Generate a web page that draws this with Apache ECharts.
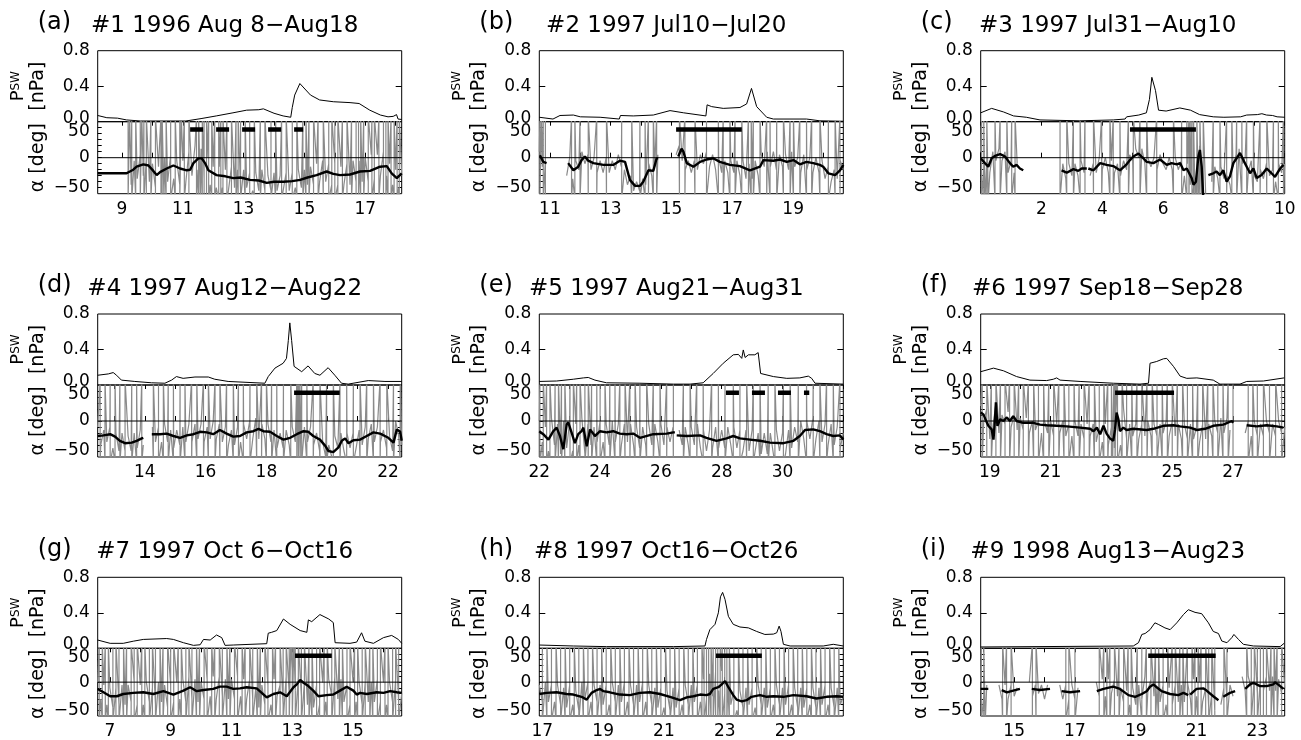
<!DOCTYPE html>
<html><head><meta charset="utf-8">
<script src="https://cdn.jsdelivr.net/npm/echarts@6.0.0/dist/echarts.min.js"></script>
<style>html,body{margin:0;padding:0;background:#fff}#c{width:1301px;height:740px}</style>
</head><body><div id="c"></div>
<script>
// ---------- panel texts ----------
const letters = ["(a)","(b)","(c)","(d)","(e)","(f)","(g)","(h)","(i)"];
const titles = ["#1 1996 Aug 8\u2212Aug18","#2 1997 Jul10\u2212Jul20","#3 1997 Jul31\u2212Aug10",
  "#4 1997 Aug12\u2212Aug22","#5 1997 Aug21\u2212Aug31","#6 1997 Sep18\u2212Sep28",
  "#7 1997 Oct 6\u2212Oct16","#8 1997 Oct16\u2212Oct26","#9 1998 Aug13\u2212Aug23"];
// ---------- x ranges (day of month) and tick labels ----------
const xRanges = [[8.2,18.2],[10.65,20.65],[0,10],[12.45,22.45],[22,32],[18.7,28.7],[6.6,16.6],[16.9,26.9],[13.9,23.9]];
const xLabels = [[9,11,13,15,17],[11,13,15,17,19],[2,4,6,8,10],[14,16,18,20,22],[22,24,26,28,30],
  [19,21,23,25,27],[7,9,11,13,15],[17,19,21,23,25],[15,17,19,21,23]];
const pswLabels = [0,0.4,0.8];
const alphaLabels = [-50,0,50];
const alphaTicks = [-50,-40,-30,-20,-10,0,10,20,30,40,50];
// ---------- solar wind pressure Psw [nPa] : [day, value] ----------
const psw_a = [[8.2,0.07],[8.5,0.045],[8.85,0.04],[9.15,0.02],[9.6,0.008],[11.1,0.008],[11.6,0.035],[12.1,0.065],[12.65,0.1],[13.1,0.13],[13.5,0.135],[13.65,0.145],[14.0,0.095],[14.3,0.065],[14.55,0.05],[14.6,0.16],[14.68,0.3],[14.85,0.43],[15.2,0.3],[15.5,0.245],[15.95,0.225],[16.5,0.215],[16.8,0.205],[17.15,0.13],[17.5,0.075],[17.75,0.055],[17.92,0.06],[18.03,0.08],[18.08,0.03],[18.2,0.025]];
const psw_b = [[10.65,0.05],[11.1,0.03],[11.33,0.07],[11.77,0.075],[12.0,0.055],[12.65,0.05],[13.28,0.03],[13.32,0.07],[13.74,0.065],[14.4,0.075],[14.95,0.125],[15.4,0.1],[16.13,0.065],[16.17,0.19],[16.32,0.17],[16.7,0.15],[17.25,0.16],[17.47,0.2],[17.63,0.375],[17.8,0.17],[18.13,0.05],[18.35,0.03],[19.44,0.03],[19.88,0.01],[20.65,0.005]];
const psw_c = [[0,0.1],[0.36,0.15],[0.75,0.11],[1.08,0.065],[1.5,0.05],[1.95,0.02],[3.26,0.01],[4.36,0.02],[4.75,0.03],[4.8,0.055],[5.2,0.075],[5.45,0.1],[5.55,0.25],[5.63,0.5],[5.68,0.52],[5.75,0.35],[5.85,0.13],[6.1,0.12],[6.55,0.155],[6.9,0.13],[7.2,0.08],[7.65,0.055],[8.0,0.05],[8.55,0.055],[8.75,0.075],[9.1,0.08],[9.25,0.09],[9.4,0.075],[9.6,0.07],[9.75,0.055],[10,0.05]];
const psw_d = [[12.45,0.11],[12.8,0.125],[12.96,0.14],[13.07,0.11],[13.23,0.055],[13.67,0.04],[14.22,0.025],[14.66,0.02],[14.88,0.055],[15.04,0.095],[15.26,0.075],[15.65,0.09],[16.09,0.09],[16.3,0.065],[16.74,0.04],[17.95,0.02],[18.06,0.095],[18.28,0.19],[18.55,0.245],[18.66,0.3],[18.72,0.5],[18.77,0.7],[18.83,0.5],[18.91,0.21],[19.16,0.15],[19.37,0.215],[19.59,0.13],[19.76,0.11],[20.03,0.195],[20.25,0.11],[20.47,0.02],[20.69,0.01],[21.35,0.05],[21.9,0.04],[22.45,0.04]];
const psw_e = [[22,0.04],[22.57,0.045],[23.12,0.065],[23.45,0.08],[23.61,0.085],[23.83,0.055],[24.21,0.025],[25.31,0.02],[26.41,0.01],[26.96,0.01],[27.39,0.025],[27.72,0.13],[28.05,0.245],[28.38,0.34],[28.55,0.345],[28.66,0.3],[28.71,0.395],[28.77,0.31],[28.88,0.34],[29.09,0.34],[29.2,0.365],[29.28,0.13],[29.7,0.095],[30.14,0.075],[30.57,0.08],[30.85,0.1],[30.96,0.075],[31.07,0.02],[32,0.01]];
const psw_f = [[18.7,0.15],[19.12,0.19],[19.45,0.16],[19.88,0.095],[20.32,0.055],[20.87,0.05],[21.09,0.065],[21.2,0.08],[21.31,0.055],[21.97,0.04],[23.06,0.02],[23.94,0.01],[24.22,0.02],[24.27,0.245],[24.49,0.265],[24.71,0.295],[24.82,0.3],[25.04,0.21],[25.26,0.1],[25.48,0.075],[25.81,0.08],[26.35,0.055],[26.57,0.01],[27.23,0.01],[27.45,0.04],[28.0,0.045],[28.68,0.08]];
const psw_g = [[6.6,0.093],[7.01,0.056],[7.44,0.056],[7.77,0.08],[8.1,0.1],[8.87,0.11],[9.09,0.1],[9.42,0.063],[9.75,0.033],[9.97,0.04],[10.08,0.1],[10.3,0.093],[10.51,0.15],[10.68,0.12],[10.79,0.033],[11.06,0.037],[12.16,0.052],[12.21,0.17],[12.32,0.18],[12.49,0.2],[12.71,0.33],[12.93,0.27],[13.26,0.2],[13.48,0.18],[13.53,0.32],[13.64,0.3],[13.91,0.38],[14.2,0.33],[14.35,0.29],[14.41,0.063],[14.9,0.056],[15.12,0.07],[15.28,0.175],[15.39,0.08],[15.67,0.056],[16.0,0.12],[16.27,0.145],[16.49,0.1],[16.6,0.056]];
const psw_h = [[16.9,0.037],[18.02,0.026],[19.11,0.019],[21.31,0.019],[22.35,0.026],[22.4,0.1],[22.51,0.21],[22.68,0.27],[22.79,0.4],[22.86,0.58],[22.93,0.63],[23.01,0.55],[23.12,0.36],[23.28,0.27],[23.5,0.24],[23.78,0.23],[24.05,0.19],[24.32,0.156],[24.6,0.16],[24.71,0.175],[24.79,0.25],[24.85,0.19],[24.93,0.045],[25.15,0.026],[26.24,0.026],[26.57,0.045],[26.9,0.026]];
const psw_i = [[13.9,0.015],[18.92,0.026],[19.09,0.063],[19.2,0.156],[19.31,0.167],[19.36,0.145],[19.47,0.21],[19.63,0.287],[19.74,0.27],[19.96,0.23],[20.13,0.21],[20.35,0.287],[20.57,0.38],[20.73,0.435],[20.95,0.405],[21.17,0.39],[21.39,0.287],[21.55,0.19],[21.72,0.167],[21.83,0.082],[22.0,0.063],[22.16,0.12],[22.23,0.156],[22.38,0.1],[22.54,0.045],[22.87,0.026],[23.75,0.019],[23.88,0.056]];
// ---------- smoothed alpha [deg] (black) : [day, value], null = gap ----------
const alpha_a = [[8.2,-26],[9.15,-26],[9.37,-20],[9.48,-15],[9.7,-11],[9.87,-13],[10.03,-22],[10.14,-29],[10.25,-24],[10.47,-18],[10.69,-13],[10.91,-18],[11.13,-21],[11.24,-20],[11.35,-9],[11.51,-1],[11.62,-1],[11.73,-9],[11.84,-21],[12.11,-29],[12.4,-31],[12.66,-34],[12.9,-33],[13.21,-37],[13.5,-38],[13.76,-42],[14.0,-40],[14.31,-40],[14.6,-39],[14.86,-37],[15.1,-33],[15.4,-29],[15.73,-23],[15.95,-27],[16.17,-29],[16.5,-28],[16.83,-23],[17.16,-22],[17.49,-15],[17.71,-14],[17.87,-26],[18.04,-34],[18.2,-26]];
const alpha_b = [[10.67,4],[10.78,-7],[10.89,-9],[11.2,null],[11.6,-9],[11.77,-21],[11.93,-15],[12.04,-4],[12.15,2],[12.26,-5],[12.43,-9],[12.76,-12],[13.08,-12],[13.3,-5],[13.47,-7],[13.63,-37],[13.8,-47],[13.96,-47],[14.07,-40],[14.24,-21],[14.4,-22],[14.51,-1],[14.56,-1],[14.9,null],[15.22,2],[15.33,15],[15.39,10],[15.5,-9],[15.72,-15],[15.94,-7],[16.15,-3],[16.37,-1],[16.59,-7],[16.92,-12],[17.25,-14],[17.58,-21],[17.91,-15],[18.02,-4],[18.35,-5],[18.57,-3],[18.79,-7],[19.01,-4],[19.22,-11],[19.44,-7],[19.66,-9],[19.88,-12],[19.99,-15],[20.16,-26],[20.38,-29],[20.54,-21],[20.65,-12]];
const alpha_c = [[0,-1],[0.14,-9],[0.25,-15],[0.36,-1],[0.47,3],[0.64,6],[0.8,2],[0.96,-9],[1.07,-15],[1.18,-12],[1.29,-18],[1.4,-21],[2.0,null],[2.66,-21],[2.83,-25],[3.05,-19],[3.21,-22],[3.32,-18],[3.49,-18],[3.52,null],[3.54,-18],[3.71,-21],[3.93,-9],[4.14,-12],[4.36,-14],[4.58,-21],[4.8,-11],[4.91,-4],[5.02,2],[5.19,7],[5.35,-1],[5.46,-7],[5.68,-9],[5.9,-3],[6.12,-12],[6.28,-9],[6.45,-11],[6.56,-9],[6.67,-21],[6.78,-18],[6.94,-34],[7.0,-45],[7.08,-40],[7.16,2],[7.21,13],[7.27,-15],[7.32,-65],[7.4,null],[7.49,-29],[7.65,-26],[7.76,-23],[7.87,-29],[7.98,-21],[8.09,-40],[8.2,-31],[8.31,-9],[8.42,-1],[8.53,8],[8.64,-4],[8.75,-15],[8.86,-26],[8.97,-18],[9.08,-34],[9.24,-29],[9.41,-18],[9.57,-26],[9.68,-32],[9.85,-18],[9.96,-12]];
const alpha_d = [[12.45,-25],[12.64,-24],[12.86,-22],[13.02,-26],[13.18,-33],[13.35,-37],[13.57,-36],[13.73,-33],[13.9,-29],[13.95,-28],[14.1,null],[14.23,-22],[14.5,-22],[14.72,-21],[14.94,-25],[15.16,-28],[15.38,-24],[15.6,-22],[15.82,-18],[16.04,-19],[16.25,-22],[16.47,-15],[16.69,-21],[16.91,-26],[17.13,-25],[17.35,-19],[17.57,-17],[17.74,-13],[17.9,-17],[18.12,-18],[18.34,-25],[18.56,-31],[18.78,-28],[19.0,-22],[19.22,-17],[19.38,-18],[19.54,-25],[19.76,-31],[19.93,-41],[20.04,-50],[20.2,-52],[20.37,-44],[20.48,-33],[20.59,-29],[20.7,-37],[20.86,-32],[21.08,-31],[21.3,-25],[21.52,-19],[21.74,-21],[22.01,-28],[22.18,-36],[22.29,-14],[22.4,-18],[22.45,-33]];
const alpha_e = [[22,-17],[22.13,-22],[22.3,-31],[22.46,-17],[22.57,-11],[22.68,-25],[22.79,-47],[22.9,-6],[22.95,-2],[23.06,-19],[23.17,-37],[23.28,-22],[23.39,-17],[23.45,-11],[23.56,-42],[23.67,-14],[23.83,-25],[24.0,-17],[24.21,-19],[24.43,-17],[24.65,-21],[24.87,-22],[25.09,-21],[25.31,-28],[25.75,-22],[26.19,-21],[26.41,-19],[26.46,-19],[26.49,null],[26.52,-24],[26.85,-25],[27.29,-24],[27.5,-28],[27.83,-33],[28.16,-29],[28.38,-25],[28.6,-29],[28.93,-31],[29.26,-33],[29.59,-36],[30.03,-37],[30.36,-33],[30.57,-25],[30.74,-15],[31.01,-14],[31.23,-17],[31.45,-22],[31.67,-25],[31.89,-24],[32.0,-31]];
const alpha_f = [[18.7,14],[18.79,11],[18.88,0],[18.95,-8],[19.06,-14],[19.12,-31],[19.17,3],[19.2,31],[19.25,-8],[19.34,3],[19.45,0],[19.56,6],[19.66,0],[19.77,8],[19.88,0],[20.1,-3],[20.43,-3],[20.65,-6],[20.87,-7],[21.2,-8],[21.53,-9],[21.97,-11],[22.3,-13],[22.41,-17],[22.52,-11],[22.63,-22],[22.74,-8],[22.84,-21],[22.95,-29],[23.06,-33],[23.12,-14],[23.17,14],[23.23,3],[23.28,-17],[23.39,-11],[23.5,-15],[23.72,-13],[24.16,-15],[24.38,-13],[24.71,-8],[25.04,-7],[25.26,-9],[25.59,-11],[25.81,-15],[26.08,-13],[26.35,-8],[26.68,-6],[26.96,0],[27.01,-3],[27.2,null],[27.45,-7],[27.78,-9],[28.11,-7],[28.44,-9],[28.66,-11]];
const alpha_g = [[6.6,-12],[6.79,-18],[7.01,-25],[7.23,-25],[7.44,-21],[7.77,-19],[8.1,-18],[8.43,-21],[8.76,-16],[9.09,-22],[9.42,-15],[9.64,-9],[9.86,-16],[10.08,-14],[10.4,-12],[10.62,-8],[10.84,-8],[11.06,-12],[11.28,-11],[11.5,-9],[11.83,-11],[12.16,-27],[12.38,-21],[12.6,-18],[12.82,-25],[13.04,-9],[13.15,-4],[13.26,4],[13.37,-1],[13.53,-7],[13.69,-15],[13.86,-25],[14.13,-23],[14.35,-22],[14.57,-15],[14.79,-8],[15.01,-15],[15.12,-22],[15.23,-19],[15.45,-21],[15.78,-18],[16.0,-19],[16.22,-16],[16.44,-18],[16.6,-19]];
const alpha_h = [[16.9,-21],[17.14,-19],[17.47,-18],[17.8,-21],[18.02,-22],[18.29,-26],[18.46,-31],[18.62,-19],[18.79,-14],[18.9,-12],[19.01,-16],[19.22,-18],[19.55,-22],[19.88,-23],[20.21,-19],[20.54,-18],[20.87,-21],[21.2,-26],[21.53,-32],[21.75,-27],[21.97,-25],[22.19,-22],[22.4,-23],[22.51,-21],[22.62,-12],[22.79,-9],[22.9,-4],[23.01,2],[23.12,-9],[23.28,-23],[23.39,-31],[23.56,-34],[23.72,-32],[23.88,-26],[24.16,-23],[24.38,-26],[24.6,-25],[24.93,-26],[25.26,-23],[25.69,-25],[26.02,-29],[26.35,-26],[26.68,-25],[26.9,-26]];
const alpha_i = [[13.9,-12],[14.15,-12],[14.35,null],[14.59,-14],[14.76,-18],[14.97,-15],[15.19,-12],[15.4,null],[15.58,-12],[15.85,-14],[16.18,-12],[16.4,null],[16.56,-16],[16.84,-18],[17.17,-16],[17.45,null],[17.72,-16],[17.94,-12],[18.26,-8],[18.48,-12],[18.76,-23],[18.98,-26],[19.2,-21],[19.36,-16],[19.47,-8],[19.58,-4],[19.69,-9],[19.85,-16],[20.13,-21],[20.4,-23],[20.57,-19],[20.73,-23],[20.76,null],[20.79,-22],[21.0,-12],[21.22,-11],[21.33,-15],[21.55,-25],[21.72,-32],[21.8,null],[21.88,-26],[22.1,-19],[22.27,-16],[22.45,null],[22.6,-12],[22.76,-4],[22.87,-1],[23.09,-7],[23.31,-7],[23.53,-4],[23.58,0],[23.75,-7],[23.86,-12]];
// ---------- raw alpha [deg] (gray) noise band, sampled every 0.1 day from the panel start, null = no data ----------
const GSTEP = 0.1;
const band_a = [null,null,null,null,null,null,null,null,null,null,
 -10,-45,-5,-35,5,-30,0,-40,-10,-50, -15,-45,0,-40,5,-35,-5,-45,-5,-40,
 10,-30,20,-20,15,-35,0,-45,-15,-50, -15,-50,-20,-55,-15,-50,-20,-55,-20,-50,
 -25,-55,-25,-55,-20,-55,-30,-55,-25,-55, -30,-55,-25,-55,-25,-50,-20,-50,-20,-45,
 -15,-45,-10,-40,-5,-40,-10,-45,-10,-45, -15,-45,-10,-45,-5,-40,-5,-40,0,-40,
 5,-35,5,-30,10,-30,-10,-45,-20,-50, -30];
const band_b = [10,-15,-5,null,null,null,null,null,null,-30, 0,-35,-5,-20,10,-10,5,-20,0,-25,
 -5,-25,0,-25,-5,-20,5,-15,-20,-45, -30,-55,-40,-55,-35,-45,-10,-30,-15,5,
 null,null,null,null,null,5,20,-5,-20,-5, -25,-5,-20,5,-10,10,-15,5,-20,0,
 -25,-5,-25,-5,-25,-5,-30,-5,-35,-10, -35,-5,-30,5,-15,10,-15,10,-20,5,
 -15,5,-20,10,-15,0,-25,5,-20,0, -25,0,-25,-5,-35,-15,-40,-20,-35,-5, -20];
const band_c = [10,-20,-5,-25,10,-5,15,-5,10,-25, -5,-25,-10,null,null,null,null,null,null,null,
 null,null,null,null,null,null,null,-10,-35,-10, -30,-10,-30,-5,-25,null,-30,-10,-25,0,
 -20,0,-25,-5,-25,-10,-30,-5,-20,5, -5,15,0,15,-10,0,-15,0,-20,5,
 -10,-20,0,-20,0,-20,-5,-30,-10,-45, -50,-30,20,-20,-60,null,-40,-15,-35,-15,
 -35,-30,-45,-15,5,15,-10,0,-25,-5, -30,-40,-20,-35,-10,-30,-20,-40,-10,-25, -10];
const band_d = [-10,-40,-15,-35,-10,-45,-20,-50,-20,-50, -25,-50,-20,-45,-15,-40,null,null,-10,-35,
 -10,-35,-5,-35,-15,-45,-15,-40,-10,-35, -5,-35,-5,-30,-5,-35,-10,-30,0,-30,
 -5,-35,-10,-40,-15,-40,-10,-35,-5,-30, 0,-30,5,-30,-5,-30,-5,-35,-15,-45,
 -20,-45,-15,-40,-10,-35,-5,-30,-10,-35, -10,-40,-20,-50,-35,-60,-40,-60,-25,-45,
 -20,-50,-20,-45,-20,-45,-15,-40,-10,-30, -5,-35,-10,-35,-15,-45,-25,-50,0,-25, -40];
const band_e = [0,-35,-10,-50,5,-40,-5,-55,0,-45, 0,-50,-5,-40,5,-55,-5,-40,-10,-35,
 0,-35,-5,-40,0,-35,-5,-40,-5,-35, -5,-40,-10,-45,-10,-40,-5,-40,-5,-35,
 -5,-40,-10,-35,-10,null,-15,-40,-10,-40, -10,-40,-5,-45,-15,-50,-15,-45,-10,-45,
 -15,-45,-10,-40,-10,-45,-15,-50,-15,-50, -15,-50,-20,-55,-20,-55,-20,-55,-15,-50,
 -20,-55,-15,-45,-10,-35,0,-30,0,-30, 5,-30,0,-35,-5,-40,-5,-40,-10,-45, -20];
const band_f = [25,0,20,-30,-10,30,-20,10,-5,15, -10,10,-15,5,-15,5,-20,0,-15,0,
 -20,0,-20,0,-25,-5,-20,0,-25,-5, -25,0,-25,-5,-30,-5,-25,-5,-35,-10,
 -35,-5,-40,-10,-45,10,-40,20,-30,-5, -25,-5,-30,-5,-25,0,-25,-5,-25,-5,
 -20,0,-25,0,-25,-5,-30,-5,-30,-5, -30,-10,-35,-5,-30,-5,-25,0,-20,5,
 -20,5,-15,null,null,null,null,-20,0,-25, 0,-25,-5,-25,0,-20,-5,-25,0,-20, -10];
const band_g = [0,-30,-5,-40,-10,-45,-10,-40,-5,-40, -5,-35,0,-40,-5,-40,0,-35,-10,-40,
 0,-35,-5,-45,-5,-35,0,-30,5,-35, 10,-30,5,-35,0,-30,5,-25,10,-30,
 10,-25,5,-30,5,-30,10,-25,5,-30, 5,-30,-10,-45,-5,-40,-5,-40,5,-25,
 -5,-40,10,-20,20,-15,10,-25,0,-40, -10,-45,-5,-40,0,-35,5,-25,10,-30,
 5,-35,-5,-40,0,-35,0,-40,0,-35, 0,-35,5,-35,0,-40,0,-35,5,-35, -20];
const band_h = [-5,-35,0,-35,-5,-35,-5,-40,-10,-45, -5,-40,-15,-50,0,-30,0,-35,-5,-35,
 -5,-40,-5,-40,0,-35,-5,-35,0,-35, -5,-40,-5,-35,0,-35,-5,-40,-10,-45,
 -10,-45,-15,-50,-10,-45,-10,-40,-5,-40, -5,-35,-5,-35,5,-30,15,-25,20,-15,
 20,-20,0,-40,-15,-50,-15,-45,-10,-40, -10,-45,-5,-40,-10,-45,-10,-40,-5,-40,
 -10,-40,-5,-40,-10,-45,-10,-45,-10,-40, -10,-45,-10,-40,-5,-40,-10,-45,-10,-40, -25];
const band_i = [0,-25,-5,null,null,null,-5,-30,-5,-30, -5,-25,-10,null,null,null,0,-25,-5,-20,
 -5,-30,-5,null,null,null,-5,-30,-5,-30, -5,-30,-10,null,null,null,null,null,0,-25,
 5,-25,5,-20,5,-25,-10,-35,-15,-40, -10,-40,-5,-30,10,-15,5,-25,-10,-35,
 -5,-40,-10,-40,-5,-35,-5,-35,0,-30, 5,-25,0,-35,-10,-45,-20,-50,null,-40,
 -10,-35,-5,-25,null,null,10,-15,10,-10, 10,-20,5,-15,10,-15,10,-15,5,-20, -10];
// ---------- raw alpha wrap-around spikes (angle jumps through +-90 deg): day positions ----------
const spikes_a = [9.2,9.25,9.32,9.45,9.6,9.65,9.72,9.8,9.95,10.1,10.28,10.32,10.38,10.45,10.6,10.75,10.9,10.95,11.05,11.2,11.45,11.52,11.58,11.64,11.7,11.78,11.85,11.95,12.05,12.18,12.25,12.32,12.45,12.6,12.75,12.82,12.9,13.05,13.2,13.35,13.55,13.7,13.9,14.05,14.25,14.4,14.6,14.75,14.95,15.05,15.15,15.3,15.45,15.62,15.8,15.9,16.0,16.1,16.25,16.4,16.55,16.7,16.78,16.85,16.95,17.1,17.22,17.3,17.45,17.6,17.68,17.75,17.85,17.95,18.05,18.12];
const spikes_b = [10.67,10.72,10.78,10.85,11.71,11.82,11.99,12.26,12.54,12.86,13.36,13.69,13.96,14.13,14.24,14.4,14.51,15.26,15.44,15.77,16.15,16.54,16.7,16.92,17.09,17.31,17.53,17.62,17.69,17.91,18.13,18.24,18.46,18.68,18.9,19.01,19.22,19.44,19.61,19.88,20.16,20.38,20.54];
const spikes_c = [0.03,0.1,0.14,0.2,0.25,0.47,0.64,0.86,1.02,1.13,2.61,2.83,3.05,3.27,3.43,3.71,3.98,4.25,4.36,4.58,4.86,5.02,5.24,5.46,5.79,6.34,6.61,6.78,6.85,6.89,6.95,7.0,7.05,7.11,7.16,7.21,7.27,7.32,7.65,7.87,8.09,8.26,8.42,8.59,8.75,8.97,9.19,9.41,9.63,9.79,9.96];
const spikes_d = [12.53,12.69,12.86,13.02,13.18,13.35,13.57,13.73,13.9,14.28,14.45,14.61,14.77,14.94,15.16,15.32,15.54,15.71,15.93,16.09,16.31,16.47,16.69,16.91,17.08,17.24,17.46,17.68,17.84,18.0,18.17,18.34,18.56,18.8,19.0,19.03,19.05,19.08,19.11,19.14,19.16,19.33,19.54,19.76,19.98,20.2,20.42,20.64,20.86,21.08,21.3,21.52,21.74,21.96,22.18,22.4];
const spikes_e = [22.02,22.13,22.24,22.35,22.52,22.63,22.73,22.84,23.01,23.12,23.23,23.34,23.5,23.61,23.72,23.89,24.0,24.16,24.32,24.49,24.65,24.82,24.98,25.15,25.31,25.53,25.75,25.97,26.19,26.41,26.74,26.96,27.18,27.39,27.67,27.89,28.11,28.38,28.6,28.82,29.04,29.26,29.53,29.75,30.03,30.25,30.52,30.79,31.01,31.23,31.45,31.67,31.89];
const spikes_f = [18.75,18.9,19.05,19.2,19.35,19.5,19.65,19.8,19.95,20.1,20.27,20.44,20.6,20.77,20.94,21.1,21.27,21.44,21.6,21.77,21.94,22.1,22.27,22.44,22.6,22.75,22.88,23.0,23.04,23.08,23.12,23.16,23.2,23.35,23.5,23.67,23.84,24.0,24.17,24.34,24.5,24.67,24.84,25.0,25.17,25.34,25.5,25.67,25.84,26.0,26.17,26.34,26.5,26.67,26.84,27.0,27.5,27.65,27.8,28.0,28.2,28.4,28.6];
const spikes_g = [6.65,6.75,6.85,6.95,7.1,7.2,7.3,7.45,7.55,7.7,7.8,7.9,8.05,8.15,8.3,8.4,8.5,8.65,8.75,8.9,9.0,9.1,9.25,9.35,9.5,9.6,9.7,9.85,9.95,10.1,10.2,10.35,10.45,10.6,10.7,10.85,10.95,11.1,11.2,11.35,11.45,11.6,11.7,11.85,11.95,12.1,12.2,12.35,12.45,12.6,12.7,12.8,12.9,12.95,13.0,13.05,13.1,13.2,13.3,13.4,13.55,13.65,13.8,13.9,14.05,14.15,14.3,14.4,14.55,14.65,14.8,14.9,15.05,15.15,15.3,15.4,15.55,15.65,15.8,15.9,16.05,16.15,16.3,16.4,16.5];
const spikes_h = [17.0,17.15,17.3,17.45,17.6,17.75,17.9,18.05,18.2,18.35,18.5,18.65,18.8,18.95,19.1,19.25,19.4,19.55,19.7,19.85,20.0,20.15,20.3,20.45,20.6,20.75,20.9,21.05,21.2,21.35,21.5,21.65,21.8,21.95,22.1,22.25,22.32,22.4,22.47,22.55,22.62,22.7,22.77,22.85,22.92,23.0,23.07,23.15,23.3,23.45,23.6,23.75,23.9,24.05,24.2,24.35,24.5,24.65,24.8,24.95,25.1,25.25,25.4,25.55,25.7,25.85,26.0,26.15,26.3,26.45,26.6,26.75];
const spikes_i = [13.92,14.0,14.05,14.62,14.75,14.9,15.6,15.72,16.7,16.8,17.0,17.8,17.95,18.05,18.15,18.3,18.45,18.6,18.75,18.85,19.05,19.2,19.35,19.5,19.65,19.75,19.9,20.05,20.2,20.3,20.45,20.55,20.7,20.85,20.95,21.05,21.15,21.3,21.4,21.5,21.6,21.9,22.0,22.65,22.8,22.9,23.0,23.1,23.2,23.3,23.45,23.55,23.65,23.8];
// ---------- event intervals (thick bars) ----------
const bars = [[11.24,14.96],[15.15,17.31],[4.91,7.08],[18.91,20.41],[28.14,30.88],[23.12,25.06],[13.09,14.30],[22.71,24.22],[19.41,21.63]];
const barDashed = [true,false,false,false,true,false,false,false,false];
const BAR_Y = 47;
const WRAP = 70; // wrapped angle drawn beyond the +-60 axis limits (clipped)

const pswAll = [psw_a,psw_b,psw_c,psw_d,psw_e,psw_f,psw_g,psw_h,psw_i];
const alphaAll = [alpha_a,alpha_b,alpha_c,alpha_d,alpha_e,alpha_f,alpha_g,alpha_h,alpha_i];
const bandAll = [band_a,band_b,band_c,band_d,band_e,band_f,band_g,band_h,band_i];
const spikeAll = [spikes_a,spikes_b,spikes_c,spikes_d,spikes_e,spikes_f,spikes_g,spikes_h,spikes_i];

// raw alpha line: band samples with the wrap-around jumps inserted at their positions
function rawAlpha(k){
  const x0 = xRanges[k][0], band = bandAll[k], sp = spikeAll[k], out = [];
  let s = 0;
  for (let i = 0; i < band.length; i++){
    const x = x0 + i*GSTEP;
    while (s < sp.length && sp[s] < x){
      const up = (s % 2 === 0);
      out.push([sp[s], up ? WRAP : -WRAP]);
      out.push([sp[s], up ? -WRAP : WRAP]);
      s++;
    }
    out.push([x, band[i]]);
  }
  return out;
}

// ---------- layout ----------
const colLeft = [97.7, 539.3, 980.7];
const rowTop = [50.7, 314, 577.3];
const W = 304, HP = 71, HA = 72;
const FONT = '"DejaVu Sans", "Liberation Sans", sans-serif';
const GRAY = '#8a8a8a';
const lbl = {fontSize:17, fontFamily:FONT, color:'#000'};
function dayTicks(a,b){ const r=[]; for(let d=Math.ceil(a-1e-9); d<=b+1e-9; d++) r.push(d); return r; }
const fmtA = v => v === 50 ? '{lo|50}' : (v < 0 ? '\u2212' + (-v) : String(v));
const fmtP = v => v === 0 ? '{hi|0.0}' : v.toFixed(1);

const grids=[], xAxes=[], yAxes=[], series=[], graphics=[];
for (let k=0;k<9;k++){
  const r=Math.floor(k/3), c=k%3, L=colLeft[c], T=rowTop[r];
  const x0=xRanges[k][0], x1=xRanges[k][1];
  grids.push({left:L, top:T, width:W, height:HP, show:true, borderColor:'#000', borderWidth:1, backgroundColor:'transparent'});
  grids.push({left:L, top:T+HP, width:W, height:HA, show:true, borderColor:'#000', borderWidth:1, backgroundColor:'transparent'});
  const tk = dayTicks(x0,x1);
  xAxes.push({gridIndex:2*k, type:'value', position:'top', min:x0, max:x1,
    axisLine:{show:false}, splitLine:{show:false}, axisLabel:{show:false},
    axisTick:{inside:true, length:4, customValues:tk, lineStyle:{color:'#000'}}});
  xAxes.push({gridIndex:2*k+1, type:'value', position:'bottom', min:x0, max:x1,
    axisLine:{show:false}, splitLine:{show:false},
    axisLabel:Object.assign({customValues:xLabels[k], margin:7}, lbl),
    axisTick:{inside:true, length:5, customValues:tk, lineStyle:{color:'#000'}}});
  yAxes.push({gridIndex:2*k, type:'value', position:'left', min:0, max:0.8,
    axisLine:{show:false}, splitLine:{show:false},
    axisLabel:Object.assign({customValues:pswLabels, margin:8, formatter:fmtP,
      rich:{hi:{fontSize:17, fontFamily:FONT, color:'#000', padding:[0,0,7,0]}}}, lbl),
    axisTick:{inside:true, length:6, customValues:[0.4], lineStyle:{color:'#000'}}});
  yAxes.push({gridIndex:2*k, type:'value', position:'right', min:0, max:0.8,
    axisLine:{show:false}, splitLine:{show:false}, axisLabel:{show:false},
    axisTick:{inside:true, length:6, customValues:[0.4], lineStyle:{color:'#000'}}});
  yAxes.push({gridIndex:2*k+1, type:'value', position:'left', min:-60, max:60,
    axisLine:{show:false}, splitLine:{show:false},
    axisLabel:Object.assign({customValues:alphaLabels, margin:8, formatter:fmtA,
      rich:{lo:{fontSize:17, fontFamily:FONT, color:'#000', padding:[7,0,0,0]}}}, lbl),
    axisTick:{inside:true, length:4, customValues:alphaTicks, lineStyle:{color:'#000'}}});
  yAxes.push({gridIndex:2*k+1, type:'value', position:'right', min:-60, max:60,
    axisLine:{show:false}, splitLine:{show:false}, axisLabel:{show:false},
    axisTick:{inside:true, length:4, customValues:alphaTicks, lineStyle:{color:'#000'}}});

  const base = {type:'line', symbol:'none', showSymbol:false, silent:true, animation:false, clip:true};
  const ax = {xAxisIndex:2*k+1, yAxisIndex:4*k+2};
  series.push(Object.assign({}, base, {xAxisIndex:2*k, yAxisIndex:4*k, data:pswAll[k],
    lineStyle:{color:'#000', width:1}}));
  series.push(Object.assign({}, base, ax, {data:rawAlpha(k), lineStyle:{color:GRAY, width:1.2}}));
  series.push(Object.assign({}, base, ax, {data:[[x0,0],[x1,0]], lineStyle:{color:'#000', width:1}}));
  series.push(Object.assign({}, base, ax, {data:alphaAll[k], lineStyle:{color:'#000', width:2.4}}));
  series.push(Object.assign({}, base, ax, {data:[[bars[k][0],BAR_Y],[bars[k][1],BAR_Y]],
    lineStyle:{color:'#000', width:4.5, type: barDashed[k] ? [13,13] : 'solid', cap:'butt'}}));

  graphics.push({type:'text', x:L-60, y:T-28, style:{text:letters[k], fontSize:24, fontFamily:FONT, fill:'#000', align:'left', verticalAlign:'middle'}});
  graphics.push({type:'text', x:L+W/2-25, y:T-25, style:{text:titles[k], fontSize:23, fontFamily:FONT, fill:'#000', align:'center', verticalAlign:'middle'}});
  graphics.push({type:'text', x:L-79, y:T+HP/2, rotation:Math.PI/2,
    style:{text:'{p|P}{s|SW}', fill:'#000', align:'center', verticalAlign:'middle',
      rich:{p:{fontSize:18, fontFamily:FONT}, s:{fontSize:12, fontFamily:FONT, verticalAlign:'top'}}}});
  graphics.push({type:'text', x:L-60, y:T+HP/2, rotation:Math.PI/2,
    style:{text:'[nPa]', fontSize:19, fontFamily:FONT, fill:'#000', align:'center', verticalAlign:'middle'}});
  graphics.push({type:'text', x:L-60, y:T+HP+HA/2, rotation:Math.PI/2,
    style:{text:'\u03b1 [deg]', fontSize:19, fontFamily:FONT, fill:'#000', align:'center', verticalAlign:'middle'}});
}

const chart = echarts.init(document.getElementById('c'), null, {renderer:'canvas', width:1301, height:740});
chart.setOption({
  animation:false, backgroundColor:'#fff',
  grid:grids, xAxis:xAxes, yAxis:yAxes, series:series, graphic:graphics
});
</script></body></html>
